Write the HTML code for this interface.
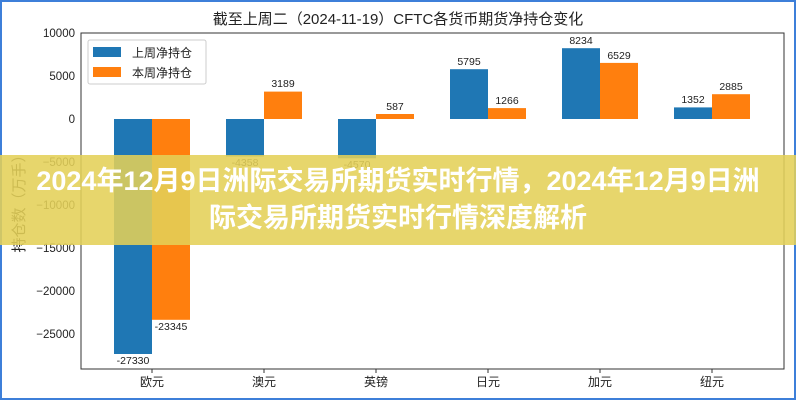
<!DOCTYPE html><html><head><meta charset="utf-8"><style>
body{margin:0;width:796px;height:400px;overflow:hidden;background:#fff;font-family:"Liberation Sans","Noto Sans CJK SC",sans-serif}
.wrap{position:absolute;left:0;top:0;width:792px;height:396px;border:2px solid #3d7fd9;}
.band{position:absolute;left:0;top:155px;width:796px;height:90px;background:rgba(228,208,88,0.88);color:#fff;font-weight:bold;font-size:27px;text-align:center;line-height:37px;padding-top:8px;box-sizing:border-box;font-family:"Liberation Sans","Noto Sans CJK SC",sans-serif;white-space:nowrap}
</style></head><body>
<div class="wrap"></div>
<svg width="796" height="400" style="position:absolute;left:0;top:0" font-family="Liberation Sans, Noto Sans CJK SC, sans-serif">
<text x="398" y="24" font-size="15" text-anchor="middle" fill="#222">截至上周二（2024-11-19）CFTC各货币期货净持仓变化</text>
<rect x="81" y="33" width="703" height="336" fill="none" stroke="#333" stroke-width="1"/>
<g font-size="11.5" fill="#222" text-anchor="end">
<text x="75" y="37">10000</text><text x="75" y="80">5000</text><text x="75" y="123">0</text>
<text x="75" y="166">−5000</text><text x="75" y="209">−10000</text><text x="75" y="252">−15000</text>
<text x="75" y="295">−20000</text><text x="75" y="338">−25000</text></g>
<text transform="translate(24,200) rotate(-90)" font-size="15" text-anchor="middle" fill="#222">持仓数（万手）</text>
<g fill="#1f77b4">
<rect x="114" y="119" width="38" height="235"/><rect x="226" y="119" width="38" height="37.5"/>
<rect x="338" y="119" width="38" height="39.3"/><rect x="450" y="69.2" width="38" height="49.8"/>
<rect x="562" y="48.2" width="38" height="70.8"/><rect x="674" y="107.4" width="38" height="11.6"/></g>
<g fill="#ff7f0e">
<rect x="152" y="119" width="38" height="200.8"/><rect x="264" y="91.6" width="38" height="27.4"/>
<rect x="376" y="114" width="38" height="5"/><rect x="488" y="108.1" width="38" height="10.9"/>
<rect x="600" y="62.9" width="38" height="56.1"/><rect x="712" y="94.2" width="38" height="24.8"/></g>
<g font-size="10.5" fill="#222" text-anchor="middle">
<text x="133" y="364">-27330</text><text x="171" y="330">-23345</text>
<text x="245" y="166">-4358</text><text x="283" y="87">3189</text>
<text x="357" y="168">-4570</text><text x="395" y="110">587</text>
<text x="469" y="65">5795</text><text x="507" y="104">1266</text>
<text x="581" y="44">8234</text><text x="619" y="59">6529</text>
<text x="693" y="103">1352</text><text x="731" y="90">2885</text></g>
<g stroke="#333"><line x1="152" y1="369" x2="152" y2="373"/><line x1="264" y1="369" x2="264" y2="373"/><line x1="376" y1="369" x2="376" y2="373"/><line x1="488" y1="369" x2="488" y2="373"/><line x1="600" y1="369" x2="600" y2="373"/><line x1="712" y1="369" x2="712" y2="373"/></g>
<g font-size="12" fill="#222" text-anchor="middle">
<text x="152" y="386">欧元</text><text x="264" y="386">澳元</text><text x="376" y="386">英镑</text><text x="488" y="386">日元</text><text x="600" y="386">加元</text><text x="712" y="386">纽元</text></g>
<rect x="88" y="40" width="118" height="44" fill="#fff" stroke="#ccc" rx="2"/>
<rect x="93" y="47" width="28" height="10" fill="#1f77b4"/><rect x="93" y="67" width="28" height="10" fill="#ff7f0e"/>
<g font-size="12" fill="#222"><text x="132" y="57">上周净持仓</text><text x="132" y="77">本周净持仓</text></g>
</svg>
<div class="band">2024年12月9日洲际交易所期货实时行情，2024年12月9日洲<br>际交易所期货实时行情深度解析</div>
</body></html>
